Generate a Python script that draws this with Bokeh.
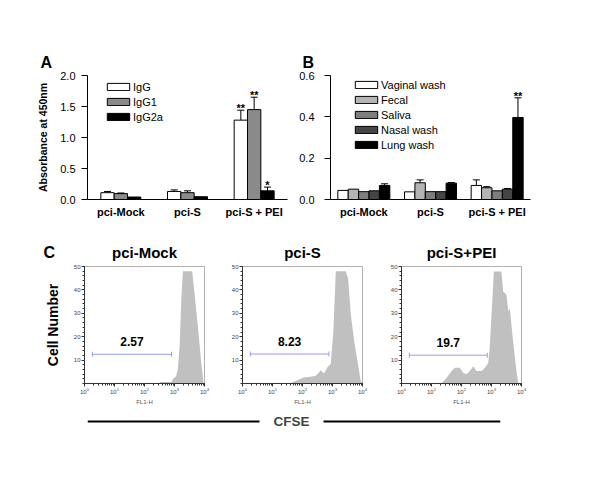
import math
from bokeh.plotting import figure
from bokeh.layouts import column, row
from bokeh.models import (ColumnDataSource, FactorRange, Range1d, Legend, LegendItem,
                          Label, Span, FixedTicker, PrintfTickFormatter, Title)
from bokeh.transform import dodge
from bokeh.core.properties import value
from bokeh.embed import file_html
from bokeh.resources import INLINE

FONT = "Liberation Sans"

groups = ["pci-Mock", "pci-S", "pci-S + PEI"]

# ---------------- Panel A : serum antibodies ----------------
a_names = ["IgG", "IgG1", "IgG2a"]
a_igg = [0.11, 0.13, 1.28]
a_igg_err = [0.13, 0.155, 1.44]
a_igg1 = [0.095, 0.11, 1.45]
a_igg1_err = [0.105, 0.14, 1.65]
a_igg2a = [0.04, 0.045, 0.14]
a_igg2a_err = [None, None, 0.20]
a_igg_sig = ["", "", "**"]
a_igg1_sig = ["", "", "**"]
a_igg2a_sig = ["", "", "*"]
a_colors = ["#ffffff", "#8a8a8a", "#000000"]
a_ticks = [0.0, 0.5, 1.0, 1.5, 2.0]

# ---------------- Panel B : mucosal IgA ----------------
b_names = ["Vaginal wash", "Fecal", "Saliva", "Nasal wash", "Lung wash"]
b_vag = [0.044, 0.037, 0.068]
b_vag_err = [None, None, 0.095]
b_fec = [0.05, 0.081, 0.057]
b_fec_err = [None, 0.095, 0.062]
b_sal = [0.038, 0.038, 0.042]
b_sal_err = [None, None, None]
b_nas = [0.042, 0.038, 0.05]
b_nas_err = [None, None, 0.053]
b_lung = [0.068, 0.079, 0.397]
b_lung_err = [0.076, 0.082, 0.492]
b_none_sig = ["", "", ""]
b_lung_sig = ["", "", "**"]
b_colors = ["#ffffff", "#b4b4b4", "#7e7e7e", "#454545", "#000000"]
b_ticks = [0.0, 0.2, 0.4, 0.6]

# ---------------- Panel C : CFSE proliferation ----------------
flow_titles = ["pci-Mock", "pci-S", "pci-S+PEI"]
mock_logfl = [2.45, 2.55, 2.9, 2.95, 3.05, 3.11, 3.17, 3.23, 3.28, 3.59, 3.68, 3.79, 3.89, 3.97]
mock_count = [0, 0.6, 0.6, 2, 3, 6, 16, 37, 48, 48, 37, 23, 9, 0]
s_logfl = [1.6, 1.65, 2.04, 2.27, 2.44, 2.55, 2.60, 2.72, 2.83, 2.94, 3.03, 3.11, 3.44,
           3.52, 3.61, 3.72, 3.83, 3.94, 4.0]
s_count = [0, 0.4, 2.6, 2.9, 3.3, 4.7, 5.7, 4.3, 6.9, 8.3, 22.6, 48, 48,
           45, 29.7, 18.3, 9.7, 1.1, 0]
pei_logfl = [1.33, 1.5, 1.67, 1.78, 1.94, 2.06, 2.17, 2.28, 2.39, 2.5, 2.67, 2.78, 2.89,
             2.94, 3.0, 3.08, 3.33, 3.39, 3.5, 3.56, 3.61, 3.72, 3.83, 3.89, 3.91]
pei_count = [0, 2.4, 5.3, 6.7, 6.7, 4.5, 4.1, 5.3, 7.4, 5.3, 5.3, 6.7, 8.8,
             15.2, 29.4, 47.9, 47.9, 39.3, 37.9, 30.8, 32.2, 18, 5.3, 0.3, 0]
gate_lo_log = [0.26, 0.26, 0.26]
gate_hi_log = [2.9, 2.88, 2.86]
gate_level = [12.5, 12.6, 12.1]
gate_pct = ["2.57", "8.23", "19.7"]
c_yticks = [10, 20, 30, 40, 50]
c_yminor = list(range(0, 51, 2))


def style_bar_axes(p, label_standoff):
    p.grid.visible = False
    p.outline_line_color = None
    for ax in (p.xaxis[0], p.yaxis[0]):
        ax.axis_line_color = "black"
        ax.major_label_text_font = FONT
        ax.major_label_text_color = "black"
    p.xaxis.major_tick_line_color = None
    p.xaxis.major_tick_out = 0
    p.xaxis.major_tick_in = 0
    p.xaxis.minor_tick_line_color = None
    p.xaxis.major_label_standoff = 6
    p.xaxis.major_label_text_font_size = "11px"
    p.xaxis.major_label_text_font_style = "bold"
    p.yaxis.major_tick_out = 6
    p.yaxis.major_tick_in = 0
    p.yaxis.major_tick_line_color = "black"
    p.yaxis.minor_tick_line_color = None
    p.yaxis.major_label_standoff = label_standoff
    p.yaxis.major_label_text_font_size = "11px"
    p.yaxis.formatter = PrintfTickFormatter(format="%.1f")


def draw_bars(p, names, series, errs, sigs, colors, bw):
    n = len(names)
    items = []
    for i, (name, vals, err, sig, col) in enumerate(zip(names, series, errs, sigs, colors)):
        off = (i - (n - 1) / 2) * bw
        src = ColumnDataSource(dict(g=groups, v=vals))
        r = p.vbar(x=dodge("g", off, range=p.x_range), top="v", width=bw, source=src,
                   fill_color=col, line_color="black", line_width=1)
        items.append(LegendItem(label=name, renderers=[r]))
        eg, lo, hi, ss = [], [], [], []
        for g, v, e, s in zip(groups, vals, err, sig):
            if e is not None:
                eg.append(g); lo.append(v); hi.append(e); ss.append(s)
        if eg:
            esrc = ColumnDataSource(dict(g=eg, lo=lo, hi=hi, s=ss))
            xd = dodge("g", off, range=p.x_range)
            p.segment(x0=xd, y0="lo", x1=xd, y1="hi", source=esrc, line_color="black", line_width=1)
            p.scatter(x=xd, y="hi", marker="dash", size=7, line_color="black", line_width=1, source=esrc)
            p.text(x=xd, y="hi", text="s", source=esrc, text_align="center",
                   text_baseline="alphabetic", y_offset=-2, text_font=value(FONT),
                   text_font_size="11px", text_font_style="bold", text_color="black")
    return items


def add_legend(p, items, loc):
    lg = Legend(items=items, location=loc, glyph_width=28, glyph_height=9, label_height=15,
                label_standoff=1, spacing=0, padding=0, margin=0, border_line_color=None,
                background_fill_alpha=0, label_text_font=FONT, label_text_font_size="11px",
                label_text_color="black")
    p.add_layout(lg)


def letter_title(p, txt, offset, standoff):
    p.add_layout(Title(text=txt, align="left", offset=offset, standoff=standoff, text_font=FONT,
                       text_font_size="16px", text_font_style="bold", text_color="black"),
                 "above")


# Panel A
pA = figure(width=295, height=225, x_range=FactorRange(*groups), y_range=Range1d(0, 2.0),
            min_border_left=87, min_border_right=8, min_border_top=75, min_border_bottom=26,
            output_backend="svg", toolbar_location=None)
style_bar_axes(pA, 6)
pA.yaxis.ticker = FixedTicker(ticks=a_ticks)
pA.yaxis.axis_label = "Absorbance at 450nm"
pA.yaxis.axis_label_text_font = FONT
pA.yaxis.axis_label_text_font_size = "10.5px"
pA.yaxis.axis_label_text_font_style = "bold"
pA.yaxis.axis_label_text_color = "black"
pA.yaxis.axis_label_standoff = 8
itemsA = draw_bars(pA, a_names, [a_igg, a_igg1, a_igg2a], [a_igg_err, a_igg1_err, a_igg2a_err],
                   [a_igg_sig, a_igg1_sig, a_igg2a_sig], a_colors, 0.2)
add_legend(pA, itemsA, (17, 75))
letter_title(pA, "A", -47, 10)

# Panel B
pB = figure(width=297, height=225, x_range=FactorRange(*groups), y_range=Range1d(0, 0.6),
            min_border_left=35, min_border_right=62, min_border_top=75, min_border_bottom=26,
            output_backend="svg", toolbar_location=None)
style_bar_axes(pB, 10)
pB.yaxis.ticker = FixedTicker(ticks=b_ticks)
itemsB = draw_bars(pB, b_names, [b_vag, b_fec, b_sal, b_nas, b_lung],
                   [b_vag_err, b_fec_err, b_sal_err, b_nas_err, b_lung_err],
                   [b_none_sig, b_none_sig, b_none_sig, b_none_sig, b_lung_sig], b_colors, 0.156)
add_legend(pB, itemsB, (22, 47))
letter_title(pB, "B", -28, 10)


# Panel C
def flow_plot(title, logfl, count, k, width, bl, br):
    p = figure(width=width, height=182, x_axis_type="log", x_range=Range1d(1, 10000),
               y_range=Range1d(0, 50), min_border_left=bl, min_border_right=br,
               min_border_top=41, min_border_bottom=24, output_backend="svg",
               toolbar_location=None, title=title)
    p.title.align = "center"
    p.title.text_font = FONT
    p.title.text_font_size = "15px"
    p.title.text_font_style = "bold"
    p.title.text_color = "black"
    p.title.standoff = 12
    p.grid.visible = False
    p.outline_line_color = "#b0b0b0"
    p.varea(x=[10 ** v for v in logfl], y1=[0] * len(count), y2=count, fill_color="#c0c0c0")
    lo = 10 ** gate_lo_log[k]
    hi = 10 ** gate_hi_log[k]
    lev = gate_level[k]
    gsrc = ColumnDataSource(dict(x0=[lo], x1=[hi], y=[lev], xm=[math.sqrt(lo * hi)], t=[gate_pct[k]]))
    p.segment(x0="x0", y0="y", x1="x1", y1="y", source=gsrc, line_color="#9999ff", line_width=1)
    p.scatter(x="x0", y="y", marker="dash", angle=math.pi / 2, size=5, line_color="#9999ff", source=gsrc)
    p.scatter(x="x1", y="y", marker="dash", angle=math.pi / 2, size=5, line_color="#9999ff", source=gsrc)
    p.text(x="xm", y="y", text="t", source=gsrc, text_align="center", text_baseline="middle",
           y_offset=-13, text_font=value(FONT), text_font_size="12px", text_font_style="bold",
           text_color="black")
    for ax in (p.xaxis[0], p.yaxis[0]):
        ax.axis_line_color = "#333333"
        ax.major_tick_line_color = "#333333"
        ax.minor_tick_line_color = "#333333"
        ax.major_tick_out = 3
        ax.major_tick_in = 0
        ax.minor_tick_out = 2
        ax.minor_tick_in = 0
        ax.major_label_text_font = FONT
        ax.major_label_text_font_size = "6px"
        ax.major_label_text_color = "#444444"
        ax.major_label_standoff = 1
    p.yaxis.ticker = FixedTicker(ticks=c_yticks, minor_ticks=c_yminor)
    p.xaxis.axis_label = "FL1-H"
    p.xaxis.axis_label_text_font = FONT
    p.xaxis.axis_label_text_font_size = "6px"
    p.xaxis.axis_label_text_font_style = "normal"
    p.xaxis.axis_label_text_color = "#555555"
    p.xaxis.axis_label_standoff = 2
    return p


# narrow figure carrying the panel letter "C" and the shared "Cell Number" label
cC = figure(width=64, height=182, x_range=Range1d(0, 1), y_range=Range1d(0, 50),
            min_border_left=62, min_border_right=0, min_border_top=41, min_border_bottom=24,
            output_backend="svg", toolbar_location=None)
cC.xaxis.visible = False
cC.grid.visible = False
cC.outline_line_color = None
cC.yaxis.ticker = FixedTicker(ticks=[])
cC.yaxis.axis_line_color = None
cC.yaxis.major_tick_line_color = None
cC.yaxis.minor_tick_line_color = None
cC.yaxis.axis_label = "Cell Number"
cC.yaxis.axis_label_text_font = FONT
cC.yaxis.axis_label_text_font_size = "14px"
cC.yaxis.axis_label_text_font_style = "bold"
cC.yaxis.axis_label_text_color = "black"
cC.yaxis.axis_label_standoff = 2
letter_title(cC, "C", -19, 11)

c1 = flow_plot(flow_titles[0], mock_logfl, mock_count, 0, 158, 20, 18)
c2 = flow_plot(flow_titles[1], s_logfl, s_count, 1, 159, 20, 19)
c3 = flow_plot(flow_titles[2], pei_logfl, pei_count, 2, 211, 20, 71)

# CFSE bar
pc = figure(width=592, height=28, x_range=Range1d(0, 1), y_range=Range1d(0, 1),
            min_border_left=87, min_border_right=92, min_border_top=0, min_border_bottom=0,
            output_backend="svg", toolbar_location=None)
pc.axis.visible = False
pc.grid.visible = False
pc.outline_line_color = None
pc.add_layout(Span(location=0.5, dimension="width", line_color="black", line_width=2))
pc.add_layout(Label(x=0.494, y=0.5, text="CFSE", text_align="center", text_baseline="middle",
                    text_font=FONT, text_font_size="13.5px", text_font_style="bold",
                    background_fill_color="white", padding=14))

layout = column(row(pA, pB), row(cC, c1, c2, c3), pc)
open("out.html", "w").write(file_html(layout, INLINE))
